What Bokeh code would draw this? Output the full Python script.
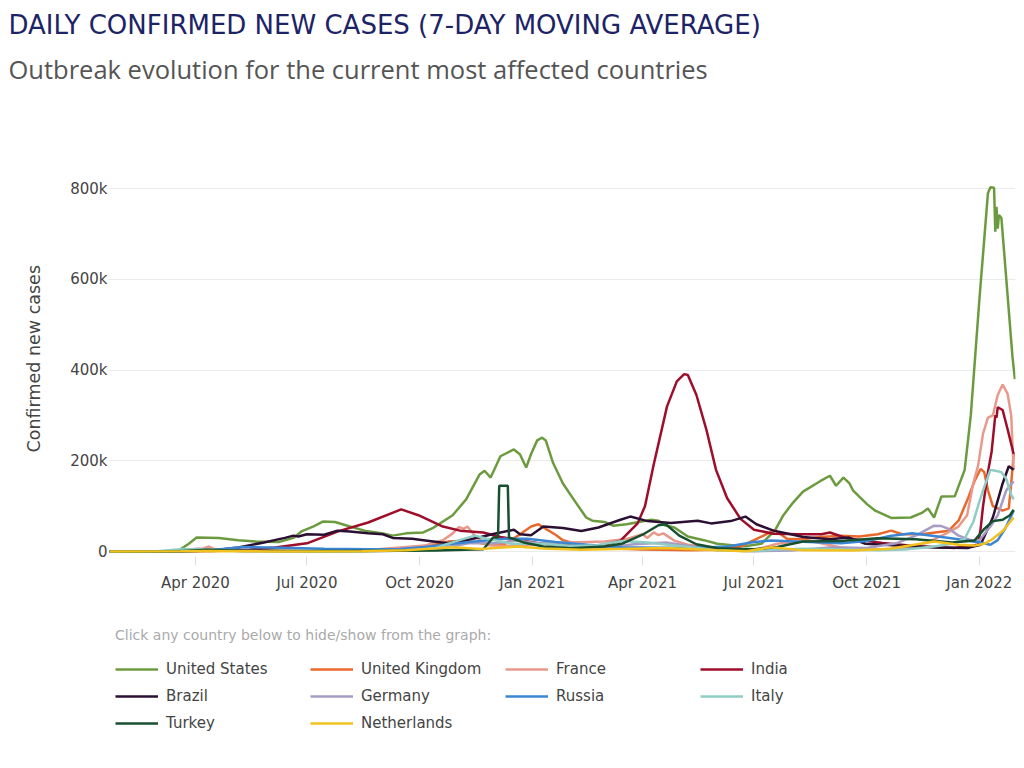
import pandas as pd
from bokeh.plotting import figure
from bokeh.models import (Range1d, FixedTicker, DatetimeTickFormatter, NumeralTickFormatter,
                          Legend, LegendItem, Title)
from bokeh.embed import file_html
from bokeh.resources import INLINE

# ---------------- data (7-day moving average of daily new cases) ----------------
us_dates = ["2020-01-22", "2020-03-10", "2020-03-18", "2020-03-26", "2020-04-02", "2020-04-20",
            "2020-05-06", "2020-05-20", "2020-06-08", "2020-06-20", "2020-06-27", "2020-07-06",
            "2020-07-14", "2020-07-24", "2020-08-05", "2020-08-17", "2020-09-01", "2020-09-09",
            "2020-09-20", "2020-10-04", "2020-10-12", "2020-10-28", "2020-11-08", "2020-11-19",
            "2020-11-23", "2020-11-28", "2020-12-06", "2020-12-17", "2020-12-22", "2020-12-27",
            "2020-12-31", "2021-01-05", "2021-01-09", "2021-01-12", "2021-01-18", "2021-01-26",
            "2021-02-05", "2021-02-14", "2021-02-19", "2021-03-01", "2021-03-08", "2021-03-19",
            "2021-04-08", "2021-04-14", "2021-04-19", "2021-04-27", "2021-05-08", "2021-05-21",
            "2021-06-01", "2021-06-15", "2021-06-25", "2021-07-07", "2021-07-18", "2021-07-25",
            "2021-08-01", "2021-08-10", "2021-08-24", "2021-09-01", "2021-09-06", "2021-09-12",
            "2021-09-17", "2021-09-20", "2021-10-01", "2021-10-08", "2021-10-21", "2021-11-06",
            "2021-11-15", "2021-11-20", "2021-11-25", "2021-12-01", "2021-12-12", "2021-12-20",
            "2021-12-25", "2022-01-01", "2022-01-08", "2022-01-10", "2022-01-13", "2022-01-14",
            "2022-01-15", "2022-01-16", "2022-01-17", "2022-01-19", "2022-01-23", "2022-01-28",
            "2022-01-30"]
us_values = [0, 0, 2000, 16000, 31000, 30000,
             25000, 22000, 21000, 30000, 45000, 55000,
             66000, 65000, 55000, 46000, 40000, 35000,
             40000, 42000, 52000, 80000, 115000, 170000,
             178000, 163000, 210000, 225000, 214000, 185000,
             215000, 245000, 251000, 245000, 195000, 150000,
             110000, 75000, 68000, 65000, 57000, 60000,
             70000, 68000, 58000, 53000, 33000, 25000,
             17000, 13000, 12000, 17000, 46000, 80000,
             105000, 132000, 155000, 167000, 145000, 163000,
             150000, 134000, 105000, 90000, 74000, 75000,
             85000, 95000, 75000, 121000, 122000, 180000,
             300000, 555000, 790000, 803000, 802000, 705000,
             760000, 712000, 742000, 735000, 600000, 430000,
             380000]

uk_dates = ["2020-01-22", "2020-03-15", "2020-04-10", "2020-05-15", "2020-07-01", "2020-08-15",
            "2020-09-15", "2020-10-10", "2020-10-25", "2020-11-08", "2020-11-25", "2020-12-10",
            "2020-12-22", "2020-12-31", "2021-01-06", "2021-01-12", "2021-01-20", "2021-01-26",
            "2021-02-10", "2021-03-01", "2021-04-01", "2021-05-10", "2021-06-01", "2021-06-20",
            "2021-07-01", "2021-07-18", "2021-07-28", "2021-08-10", "2021-08-24", "2021-09-10",
            "2021-09-25", "2021-10-10", "2021-10-21", "2021-10-30", "2021-11-15", "2021-12-07",
            "2021-12-15", "2021-12-23", "2021-12-28", "2022-01-02", "2022-01-05", "2022-01-08",
            "2022-01-12", "2022-01-20", "2022-01-25", "2022-01-27", "2022-01-29"]
uk_values = [0, 500, 5000, 3000, 800, 1000,
             4000, 14000, 22000, 24000, 16000, 17000,
             38000, 55000, 60000, 50000, 37000, 25000,
             14000, 7000, 4500, 2500, 4000, 11000,
             25000, 47000, 28000, 27000, 32000, 35000,
             33000, 38000, 46000, 38000, 38000, 46000,
             68000, 119000, 155000, 182000, 175000, 135000,
             100000, 90000, 95000, 150000, 215000]

france_dates = ["2020-01-22", "2020-03-15", "2020-04-01", "2020-04-07", "2020-04-12", "2020-04-18",
                "2020-05-15", "2020-07-01", "2020-08-15", "2020-09-15", "2020-10-05", "2020-10-20",
                "2020-10-28", "2020-11-02", "2020-11-06", "2020-11-09", "2020-11-15", "2020-11-25",
                "2020-12-10", "2021-01-05", "2021-02-01", "2021-03-01", "2021-03-20", "2021-04-01",
                "2021-04-05", "2021-04-10", "2021-04-14", "2021-04-18", "2021-04-27", "2021-05-08",
                "2021-05-20", "2021-06-10", "2021-07-01", "2021-07-20", "2021-08-10", "2021-08-20",
                "2021-09-10", "2021-10-10", "2021-11-01", "2021-11-20", "2021-12-05", "2021-12-15",
                "2021-12-22", "2021-12-27", "2021-12-31", "2022-01-04", "2022-01-08", "2022-01-12",
                "2022-01-16", "2022-01-20", "2022-01-24", "2022-01-27", "2022-01-29"]
france_values = [0, 1000, 5000, 6000, 11000, 3000,
                 700, 700, 2500, 9000, 13000, 25000,
                 40000, 54000, 50000, 55000, 35000, 14000,
                 12000, 16000, 20000, 22000, 28000, 38000,
                 30000, 42000, 36000, 40000, 24000, 15000,
                 12000, 4000, 3000, 17000, 24000, 21000,
                 9000, 4500, 7000, 20000, 40000, 55000,
                 80000, 150000, 190000, 260000, 295000, 300000,
                 345000, 368000, 348000, 300000, 180000]

india_dates = ["2020-01-22", "2020-04-15", "2020-05-15", "2020-06-05", "2020-07-01", "2020-07-27",
               "2020-08-20", "2020-09-16", "2020-09-30", "2020-10-20", "2020-11-03", "2020-11-22",
               "2020-12-06", "2020-12-22", "2021-01-05", "2021-01-26", "2021-02-15", "2021-03-01",
               "2021-03-14", "2021-03-28", "2021-04-03", "2021-04-10", "2021-04-21", "2021-04-29",
               "2021-05-05", "2021-05-08", "2021-05-15", "2021-05-23", "2021-05-31", "2021-06-09",
               "2021-06-20", "2021-07-01", "2021-07-17", "2021-08-08", "2021-08-25", "2021-09-01",
               "2021-09-15", "2021-10-14", "2021-11-09", "2021-12-12", "2021-12-31", "2022-01-02",
               "2022-01-04", "2022-01-08", "2022-01-11", "2022-01-14", "2022-01-15", "2022-01-16",
               "2022-01-20", "2022-01-24", "2022-01-29"]
india_values = [0, 1000, 4000, 9000, 18000, 45000,
                64000, 93000, 80000, 55000, 46000, 42000,
                32000, 25000, 19000, 14000, 11000, 15000,
                24000, 62000, 100000, 190000, 320000, 375000,
                391000, 389000, 345000, 270000, 180000, 118000,
                72000, 48000, 39000, 38000, 38000, 42000,
                29000, 19000, 12000, 8000, 15000, 50000,
                100000, 175000, 220000, 300000, 295000, 318000,
                312000, 270000, 215000]

brazil_dates = ["2020-01-22", "2020-03-20", "2020-04-15", "2020-05-06", "2020-05-27", "2020-06-13",
                "2020-06-20", "2020-06-24", "2020-07-01", "2020-07-15", "2020-07-26", "2020-08-05",
                "2020-08-20", "2020-09-01", "2020-09-09", "2020-09-25", "2020-10-04", "2020-10-24",
                "2020-11-08", "2020-11-20", "2020-12-01", "2020-12-17", "2020-12-22", "2020-12-31",
                "2021-01-10", "2021-01-26", "2021-02-10", "2021-02-24", "2021-03-14", "2021-03-22",
                "2021-04-05", "2021-04-24", "2021-05-16", "2021-05-27", "2021-06-12", "2021-06-24",
                "2021-07-03", "2021-07-17", "2021-08-02", "2021-08-10", "2021-09-01", "2021-09-16",
                "2021-09-30", "2021-10-26", "2021-11-26", "2021-12-23", "2022-01-02", "2022-01-12",
                "2022-01-20", "2022-01-25", "2022-01-29"]
brazil_values = [0, 0, 2000, 9000, 20000, 30000,
                 35000, 33000, 38000, 37000, 46000, 44000,
                 40000, 38000, 30000, 28000, 25000, 18000,
                 25000, 32000, 39000, 48000, 38000, 36000,
                 55000, 52000, 45000, 53000, 70000, 77000,
                 67000, 63000, 68000, 62000, 67000, 77000,
                 60000, 46000, 37000, 32000, 27000, 31000,
                 17000, 13000, 9000, 8000, 15000, 75000,
                 150000, 188000, 180000]

germany_dates = ["2020-01-22", "2020-03-15", "2020-04-02", "2020-04-15", "2020-05-10", "2020-07-01",
                 "2020-08-20", "2020-10-01", "2020-10-25", "2020-11-10", "2020-12-01", "2020-12-20",
                 "2021-01-05", "2021-01-15", "2021-02-10", "2021-03-01", "2021-03-25", "2021-04-20",
                 "2021-05-10", "2021-06-01", "2021-07-01", "2021-08-01", "2021-09-01", "2021-10-01",
                 "2021-10-25", "2021-11-10", "2021-11-25", "2021-12-01", "2021-12-07", "2021-12-15",
                 "2021-12-25", "2022-01-01", "2022-01-10", "2022-01-16", "2022-01-23", "2022-01-29"]
germany_values = [0, 800, 6000, 4000, 800, 400,
                  1200, 2000, 10000, 18000, 18000, 24000,
                  18000, 17000, 8000, 8500, 16000, 20000,
                  12000, 3000, 600, 2000, 9000, 7500,
                  18000, 35000, 57000, 56000, 50000, 35000,
                  25000, 25000, 55000, 80000, 135000, 155000]

russia_dates = ["2020-01-22", "2020-03-25", "2020-04-15", "2020-05-10", "2020-06-10", "2020-07-15",
                "2020-08-20", "2020-09-15", "2020-10-05", "2020-10-25", "2020-11-15", "2020-12-10",
                "2020-12-28", "2021-01-20", "2021-02-15", "2021-03-15", "2021-04-15", "2021-05-15",
                "2021-06-10", "2021-07-01", "2021-07-15", "2021-08-15", "2021-09-10", "2021-10-01",
                "2021-10-20", "2021-11-07", "2021-11-25", "2021-12-15", "2022-01-01", "2022-01-10",
                "2022-01-16", "2022-01-22", "2022-01-29"]
russia_values = [0, 300, 3500, 10000, 8500, 6000,
                 5000, 5500, 10000, 16000, 22000, 28000,
                 28000, 21000, 15000, 9500, 8500, 8500,
                 11000, 21000, 24000, 21000, 18000, 23000,
                 34000, 40000, 34000, 27000, 20000, 15000,
                 25000, 50000, 90000]

italy_dates = ["2020-01-22", "2020-03-01", "2020-03-22", "2020-04-10", "2020-05-01", "2020-06-01",
               "2020-08-15", "2020-09-15", "2020-10-10", "2020-10-25", "2020-11-15", "2020-11-25",
               "2020-12-15", "2021-01-10", "2021-02-01", "2021-02-20", "2021-03-15", "2021-04-05",
               "2021-05-01", "2021-06-01", "2021-07-01", "2021-07-20", "2021-08-10", "2021-09-10",
               "2021-10-10", "2021-11-01", "2021-11-25", "2021-12-10", "2021-12-20", "2021-12-27",
               "2022-01-01", "2022-01-06", "2022-01-10", "2022-01-14", "2022-01-19", "2022-01-23",
               "2022-01-27", "2022-01-29"]
italy_values = [0, 300, 5500, 4000, 1800, 300,
                500, 1500, 4000, 18000, 35000, 28000,
                17000, 17000, 12000, 13000, 23000, 20000,
                12000, 3000, 900, 4500, 6000, 4500,
                2800, 4500, 11000, 17000, 28000, 65000,
                110000, 150000, 180000, 178000, 175000, 160000,
                125000, 115000]

turkey_dates = ["2020-01-22", "2020-03-15", "2020-04-10", "2020-05-10", "2020-06-15", "2020-08-01",
                "2020-09-15", "2020-10-15", "2020-11-22", "2020-11-30", "2020-12-04", "2020-12-05",
                "2020-12-12", "2020-12-13", "2020-12-25", "2021-01-10", "2021-02-01", "2021-03-01",
                "2021-03-15", "2021-04-01", "2021-04-14", "2021-04-20", "2021-05-01", "2021-05-15",
                "2021-06-01", "2021-07-01", "2021-07-20", "2021-08-10", "2021-09-10", "2021-10-10",
                "2021-11-10", "2021-12-10", "2021-12-28", "2022-01-05", "2022-01-12", "2022-01-20",
                "2022-01-26", "2022-01-29"]
turkey_values = [0, 0, 4000, 1800, 1300, 1000,
                 1700, 2000, 5000, 31000, 31000, 145000,
                 145000, 31000, 20000, 11000, 7000, 11000,
                 17000, 37000, 58000, 60000, 35000, 16000,
                 7000, 5000, 10000, 22000, 23000, 29000,
                 27000, 20000, 24000, 50000, 67000, 70000,
                 80000, 92000]

netherlands_dates = ["2020-01-22", "2020-03-20", "2020-04-10", "2020-06-01", "2020-08-15", "2020-09-20",
                     "2020-10-15", "2020-10-28", "2020-11-20", "2020-12-20", "2021-01-10", "2021-02-10",
                     "2021-03-20", "2021-04-20", "2021-06-01", "2021-06-25", "2021-07-15", "2021-08-10",
                     "2021-09-20", "2021-10-20", "2021-11-25", "2021-12-15", "2021-12-28", "2022-01-05",
                     "2022-01-12", "2022-01-20", "2022-01-29"]
netherlands_values = [0, 500, 1100, 200, 600, 2500,
                      7000, 9500, 5500, 11000, 6500, 4000,
                      6000, 7500, 2500, 700, 9500, 2500,
                      2000, 6000, 22000, 15000, 13000, 17000,
                      28000, 45000, 75000]

countries = ["United States", "United Kingdom", "France", "India", "Brazil",
             "Germany", "Russia", "Italy", "Turkey", "Netherlands"]
series_dates = [us_dates, uk_dates, france_dates, india_dates, brazil_dates,
                germany_dates, russia_dates, italy_dates, turkey_dates, netherlands_dates]
series_values = [us_values, uk_values, france_values, india_values, brazil_values,
                 germany_values, russia_values, italy_values, turkey_values, netherlands_values]
colors = ["#6c9b3f", "#e8692b", "#e9998b", "#9e0e2b", "#2c1034",
          "#a69cc3", "#3b86d3", "#8fcdc4", "#17502f", "#f1c21f"]

x_tick_dates = ["2020-04-01", "2020-07-01", "2020-10-01", "2021-01-01",
                "2021-04-01", "2021-07-01", "2021-10-01", "2022-01-01"]
y_ticks = [0, 200000, 400000, 600000, 800000]

title_text = "DAILY CONFIRMED NEW CASES (7-DAY MOVING AVERAGE)"
subtitle_text = "Outbreak evolution for the current most affected countries"
y_label = "Confirmed new cases"
legend_title = "Click any country below to hide/show from the graph:"

# ---------------- figure ----------------
# The plot frame spans the whole area below the subtitle; the visible chart occupies
# the values -11k..840k, the legend sits in the empty room below the x axis.
p = figure(width=1016, height=760, x_axis_type="datetime", output_backend="svg",
           toolbar_location=None, title=None,
           x_range=Range1d(pd.Timestamp("2020-01-21"), pd.Timestamp("2022-01-30 12:00")),
           y_range=Range1d(-427700, 1025200),
           min_border_left=108, min_border_right=1, min_border_top=86, min_border_bottom=15)
p.outline_line_color = None
p.background_fill_color = "white"
p.border_fill_color = "white"

xax = p.below[0]
yax = p.left[0]

sub = Title(text=subtitle_text, text_font="Open Sans", text_font_size="25.5px",
            text_font_style="normal", text_color="#555555", align="left",
            vertical_align="bottom", offset=-100, standoff=2)
p.add_layout(sub, "above")
main = Title(text=title_text, text_font="DejaVu Sans", text_font_size="26px",
             text_font_style="normal", text_color="#1c2366", align="left",
             vertical_align="top", offset=-100, standoff=14)
p.add_layout(main, "above")

renderers = []
for name, d, v, c in zip(countries, series_dates, series_values, colors):
    r = p.line(pd.to_datetime(d), v, line_color=c, line_width=2.5)
    renderers.append(r)

# x axis drawn just under the zero line
xax.fixed_location = -11000
xax.ticker = FixedTicker(ticks=[pd.Timestamp(t).value // 10**6 for t in x_tick_dates])
xax.formatter = DatetimeTickFormatter(days="%b %Y", months="%b %Y", years="%b %Y")
xax.axis_line_color = None
xax.major_tick_line_color = "#dddddd"
xax.major_tick_in = 0
xax.major_tick_out = 9
xax.minor_tick_line_color = None
xax.major_label_standoff = 9
xax.major_label_text_font = "DejaVu Sans"
xax.major_label_text_font_size = "15px"
xax.major_label_text_color = "#444444"

yax.ticker = FixedTicker(ticks=y_ticks)
yax.formatter = NumeralTickFormatter(format="0a")
yax.axis_line_color = None
yax.major_tick_line_color = None
yax.minor_tick_line_color = None
yax.major_tick_in = 0
yax.major_tick_out = 0
yax.major_label_standoff = 1
yax.major_label_text_font = "DejaVu Sans"
yax.major_label_text_font_size = "15px"
yax.major_label_text_color = "#444444"

# y axis title, placed beside the chart part of the frame
ylab = Title(text=y_label, text_font="DejaVu Sans", text_font_size="17.5px",
             text_font_style="normal", text_color="#444444", align="left",
             vertical_align="top", offset=293, standoff=44)
p.add_layout(ylab, "left")

p.xgrid.grid_line_color = None
p.ygrid.ticker = FixedTicker(ticks=y_ticks)
p.ygrid.grid_line_color = "#ebebeb"
p.ygrid.grid_line_width = 1

legend = Legend(items=[LegendItem(label=n, renderers=[r]) for n, r in zip(countries, renderers)],
                location=(7, 12), orientation="horizontal", ncols=4,
                padding=0, margin=0, spacing=7,
                glyph_width=43, glyph_height=20, label_standoff=8,
                label_width=137, label_height=20,
                label_text_font="DejaVu Sans", label_text_font_size="15px",
                label_text_color="#444444",
                title=legend_title, title_text_font="DejaVu Sans",
                title_text_font_size="14px", title_text_font_style="normal",
                title_text_color="#aaaaaa", title_standoff=16,
                border_line_color=None, background_fill_alpha=0,
                click_policy="hide")
p.add_layout(legend, "center")

open("out.html", "w").write(file_html(p, INLINE))
